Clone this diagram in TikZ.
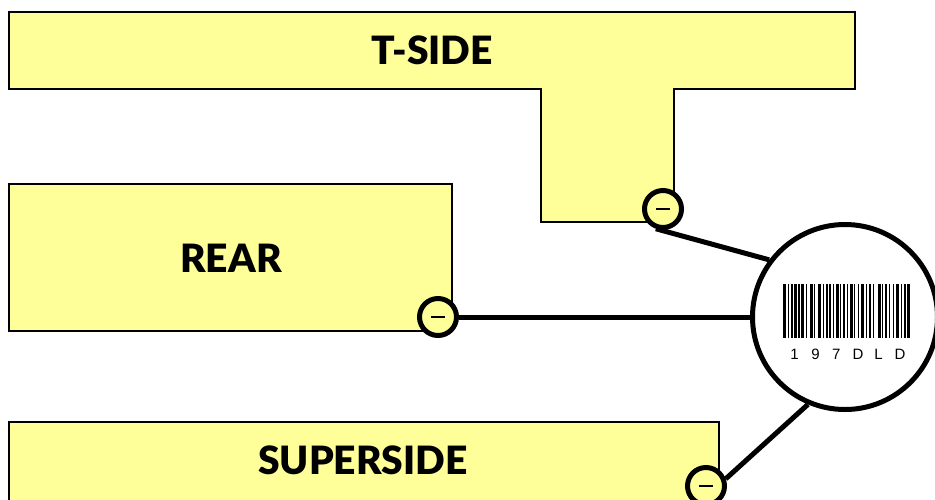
\documentclass[tikz,border=0pt]{standalone}
\usepackage{fontspec}
\setmainfont{Lato}
\IfFontExistsTF{Lato Black}{\newfontfamily\labfont{Lato Black}}{\newfontfamily\labfont{Lato}[UprightFont={* Bold}]}
\newfontfamily\codefont{Liberation Sans}
\definecolor{padyellow}{HTML}{FFFF99}
\begin{document}
\begin{tikzpicture}[x=1pt,y=-1pt,
  pad/.style={fill=padyellow,draw=black,line width=2.5pt,line join=miter},
  minus/.style={circle,fill=padyellow,draw=black,line width=5pt,minimum size=37pt,inner sep=0pt},
  wire/.style={line width=5pt},
  lab/.style={font=\labfont\fontsize{39}{42}\selectfont}]
\useasboundingbox (0,0) rectangle (935,499);
% pads
\draw[pad] (9,12) -- (855,12) -- (855,89) -- (674,89) -- (674,222) -- (541,222) -- (541,89) -- (9,89) -- cycle;
\draw[pad] (9,184) rectangle (452,331);
\draw[pad] (9,422) -- (719,422) -- (719,510) -- (9,510) -- cycle;
\node[lab] (tl) at (432,50) {T-SIDE};
\node[lab] (rl) at (231,258) {REAR};
\node[lab] (sl) at (363,460) {SUPERSIDE};
% big circle
\node[circle,draw=black,fill=white,line width=5pt,minimum size=185pt,inner sep=0pt] (bc) at (845,317) {};
% minus terminals
\node[minus] (tm) at (663,209) {};
\node[minus] (rm) at (438,317) {};
\node[minus] (sm) at (706,486) {};
\foreach \m in {tm,rm,sm} \draw[line width=2pt] ([xshift=-7pt]\m.center) -- ([xshift=7pt]\m.center);
% wires
\draw[wire] (tm.250) -- (bc.143);
\draw[wire] (rm.east) -- (bc.west);
\draw[wire] (sm.20) -- (bc.247);
% barcode
\foreach \bx/\bw in {0/3,5/1,8/1.5,11/3,15/2,18/3,23/1,27/3,31/1,35/3,40/1,43/2,46/1.5,50/1,53/3,57/1,60/2,64/1,67/3,71/1,75/1,78/3,83/1,86/2,90/1,95/3,99/1,102/2,106/1,110/1,113/3,118/1,121/1.5,124/3}
  \fill[black] (783+\bx,284) rectangle (783+\bx+\bw,338);
\node[font=\codefont\fontsize{15}{15}\selectfont] (code) at (848,354) {1\hspace{12.5pt}9\hspace{12.5pt}7\hspace{12pt}D\hspace{11pt}L\hspace{12pt}D};
\end{tikzpicture}
\end{document}
